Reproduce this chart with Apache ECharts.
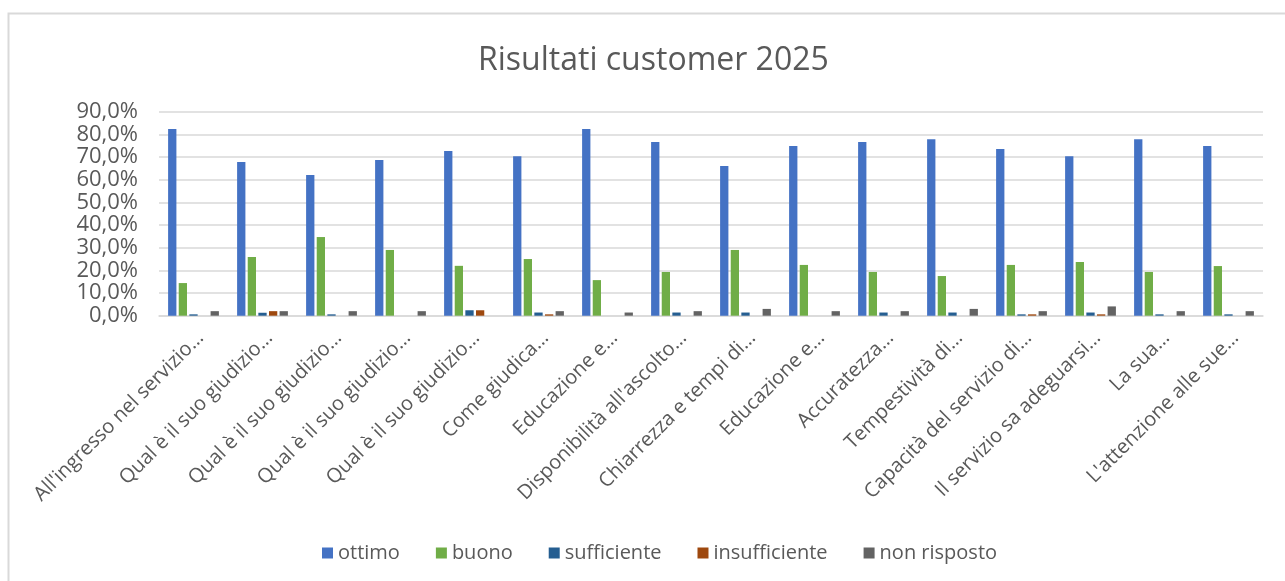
<!DOCTYPE html>
<html>
<head>
<meta charset="utf-8">
<script src="https://cdn.jsdelivr.net/npm/echarts@6/dist/echarts.min.js"></script>
<style>
  html, body { margin: 0; padding: 0; background: #fff; }
  #myChart { width: 1285px; height: 581px; }
</style>
</head>
<body>
<div id="myChart"></div>
<script>
  // domande (etichette troncate come nel grafico originale)
  const categories = [
    "All'ingresso nel servizio…",
    "Qual è il suo giudizio…",
    "Qual è il suo giudizio…",
    "Qual è il suo giudizio…",
    "Qual è il suo giudizio…",
    "Come giudica…",
    "Educazione e…",
    "Disponibilità all'ascolto…",
    "Chiarrezza e tempi di…",
    "Educazione e…",
    "Accuratezza…",
    "Tempestività di…",
    "Capacità del servizio di…",
    "Il servizio sa adeguarsi…",
    "La sua…",
    "L'attenzione alle sue…"
  ];

  // valori in percentuale
  const ottimo = [82.4, 67.8, 62.1, 68.7, 72.7, 70.4, 82.4, 76.6, 66.0, 74.9, 76.6, 77.9, 73.5, 70.4, 77.9, 74.9];
  const buono = [14.4, 25.9, 34.7, 29.0, 22.0, 25.0, 15.7, 19.3, 29.0, 22.4, 19.3, 17.5, 22.4, 23.7, 19.3, 21.9];
  const sufficiente = [0.6, 1.3, 0.6, 0, 2.4, 1.4, 0, 1.4, 1.4, 0, 1.4, 1.4, 0.6, 1.4, 0.6, 0.6];
  const insufficiente = [0, 2.0, 0, 0, 2.4, 0.6, 0, 0, 0, 0, 0, 0, 0.6, 0.6, 0, 0];
  const nonRisposto = [2.0, 2.0, 2.0, 2.0, 0, 2.0, 1.4, 2.0, 3.0, 2.0, 2.0, 3.0, 2.0, 4.1, 2.0, 2.0];

  const yTicks = [0, 10, 20, 30, 40, 50, 60, 70, 80, 90];

  const font = "'Open Sans', 'Noto Sans', sans-serif";
  const grey = '#595959';

  function bar(name, color, data) {
    return {
      name: name,
      type: 'bar',
      data: data,
      barWidth: 8.3,
      barGap: '28%',
      itemStyle: { color: color }
    };
  }

  const myChart = echarts.init(document.getElementById('myChart'));
  myChart.setOption({
    animation: false,
    textStyle: { fontFamily: font },
    title: {
      text: 'Risultati customer 2025',
      left: 473,
      top: 40,
      textStyle: { fontFamily: font, fontSize: 32, fontWeight: 'normal', color: grey }
    },
    graphic: [
      {
        type: 'rect',
        shape: { x: 8.5, y: 13.5, width: 1300, height: 600 },
        style: { fill: 'none', stroke: '#d9d9d9', lineWidth: 2 },
        silent: true
      }
    ],
    legend: {
      data: ['ottimo', 'buono', 'sufficiente', 'insufficiente', 'non risposto'],
      left: 317,
      top: 538,
      icon: 'rect',
      itemWidth: 11,
      itemHeight: 11,
      itemGap: 36,
      textStyle: { fontFamily: font, fontSize: 20, color: grey }
    },
    grid: {
      left: 159,
      right: 22,
      top: 111.7,
      bottom: 265.3,
      containLabel: false
    },
    xAxis: {
      type: 'category',
      data: categories,
      axisLine: { lineStyle: { color: '#d9d9d9', width: 1.5 } },
      axisTick: { show: false },
      axisLabel: {
        interval: 0,
        rotate: 45,
        margin: 12,
        verticalAlign: 'top',
        fontFamily: font,
        fontSize: 20,
        color: grey
      }
    },
    yAxis: {
      type: 'value',
      min: yTicks[0],
      max: yTicks[yTicks.length - 1],
      interval: 10,
      axisLine: { show: false },
      axisTick: { show: false },
      splitLine: { lineStyle: { color: '#d9d9d9', width: 1.5 } },
      axisLabel: {
        margin: 21,
        fontFamily: font,
        fontSize: 22,
        color: grey,
        formatter: function (v) { return v.toFixed(1).replace('.', ',') + '%'; }
      }
    },
    series: [
      bar('ottimo', '#4472C4', ottimo),
      bar('buono', '#70AD47', buono),
      bar('sufficiente', '#255E91', sufficiente),
      bar('insufficiente', '#9E480E', insufficiente),
      bar('non risposto', '#636363', nonRisposto)
    ]
  });
</script>
</body>
</html>
